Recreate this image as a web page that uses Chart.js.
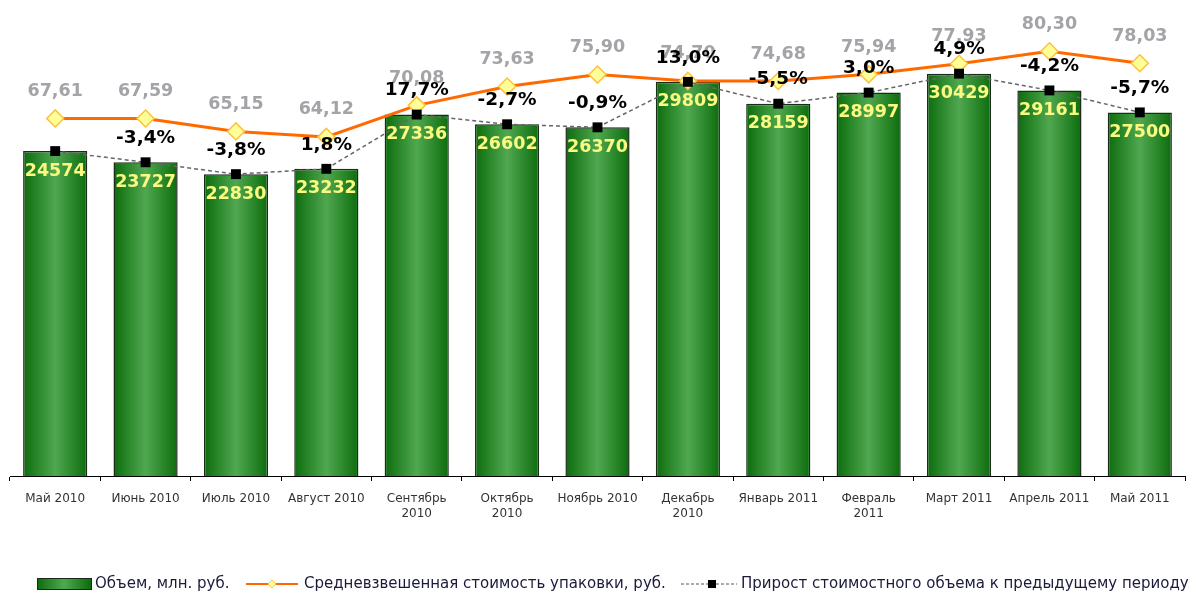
<!DOCTYPE html>
<html>
<head>
<meta charset="utf-8">
<script src="https://cdn.jsdelivr.net/npm/chart.js@4"></script>
<style>
  body { margin: 0; background: #fff; }
</style>
</head>
<body>
<canvas id="chart" width="1193" height="591"></canvas>
<script>
// DATOS
var meses = ['Май 2010', 'Июнь 2010', 'Июль 2010', 'Август 2010', ['Сентябрь', '2010'], ['Октябрь', '2010'],
    'Ноябрь 2010', ['Декабрь', '2010'], 'Январь 2011', ['Февраль', '2011'], 'Март 2011', 'Апрель 2011', 'Май 2011'];
var volumen = [24574, 23727, 22830, 23232, 27336, 26602, 26370, 29809, 28159, 28997, 30429, 29161, 27500];
var precio = [67.61, 67.59, 65.15, 64.12, 70.08, 73.63, 75.90, 74.70, 74.68, 75.94, 77.93, 80.30, 78.03];
var crecimiento = [null, -3.4, -3.8, 1.8, 17.7, -2.7, -0.9, 13.0, -5.5, 3.0, 4.9, -4.2, -5.7];
var leyenda = ['Объем, млн. руб.', 'Средневзвешенная стоимость упаковки, руб.', 'Прирост стоимостного объема к предыдущему периоду'];

var fuente = '"DejaVu Sans", Verdana, sans-serif';

function coma(v, dec) {
    return v.toFixed(dec).replace('.', ',');
}

//degradado verde de las barras
function degradado(ctx, x0, x1) {
    var g = ctx.createLinearGradient(x0, 0, x1, 0);
    g.addColorStop(0, '#0c6c0c');
    g.addColorStop(0.5, '#50a850');
    g.addColorStop(1, '#0c6c0c');
    return g;
}

function fondoBarra(context) {
    var chart = context.chart;
    var x = chart.scales.x;
    if (!x || context.dataIndex === undefined) return '#2e8b2e';
    var centro = x.getPixelForValue(context.dataIndex);
    var ancho = (x.width / meses.length) * 0.71;
    if (!isFinite(centro) || !isFinite(ancho) || ancho <= 0) return '#2e8b2e';
    return degradado(chart.ctx, centro - ancho / 2, centro + ancho / 2);
}

//ETIQUETAS DE LOS VALORES
var etiquetas = {
    id: 'etiquetas',
    afterDatasetsDraw: function (chart) {
        var ctx = chart.ctx;
        ctx.save();
        ctx.textAlign = 'center';
        ctx.textBaseline = 'middle';

        ctx.font = 'bold 17.5px ' + fuente;
        ctx.fillStyle = '#a3a3a8';
        chart.getDatasetMeta(1).data.forEach(function (p, i) {
            ctx.fillText(coma(precio[i], 2), p.x, p.y - 27);
        });

        ctx.font = 'bold 18.5px ' + fuente;
        ctx.fillStyle = '#000';
        chart.getDatasetMeta(2).data.forEach(function (p, i) {
            if (crecimiento[i] === null) return;
            ctx.fillText(coma(crecimiento[i], 1) + '%', p.x, p.y - 24);
        });

        ctx.font = 'bold 17.5px ' + fuente;
        ctx.fillStyle = '#fafa80';
        chart.getDatasetMeta(0).data.forEach(function (b, i) {
            ctx.fillText(volumen[i], b.x, b.y + 20);
        });
        ctx.restore();
    },
    afterDraw: function (chart) {
        //LEYENDA
        var ctx = chart.ctx;
        var y = 584;
        ctx.save();
        ctx.font = '15px ' + fuente;
        ctx.textBaseline = 'middle';

        ctx.fillStyle = degradado(ctx, 37, 91);
        ctx.fillRect(37, y - 6, 54, 11);
        ctx.strokeStyle = '#1a2a1a';
        ctx.lineWidth = 1;
        ctx.strokeRect(37.5, y - 5.5, 54, 11);
        ctx.fillStyle = '#1a1a3a';
        ctx.fillText(leyenda[0], 95, y);

        ctx.strokeStyle = '#ff6a00';
        ctx.lineWidth = 2;
        ctx.beginPath();
        ctx.moveTo(246, y); ctx.lineTo(298, y);
        ctx.stroke();
        ctx.fillStyle = '#ffff99';
        ctx.strokeStyle = '#ffc040';
        ctx.lineWidth = 1;
        ctx.beginPath();
        ctx.moveTo(272, y - 4); ctx.lineTo(276, y); ctx.lineTo(272, y + 4); ctx.lineTo(268, y);
        ctx.closePath();
        ctx.fill(); ctx.stroke();
        ctx.fillStyle = '#1a1a3a';
        ctx.fillText(leyenda[1], 304, y);

        ctx.strokeStyle = '#555';
        ctx.lineWidth = 1;
        ctx.setLineDash([3, 2]);
        ctx.beginPath();
        ctx.moveTo(681, y); ctx.lineTo(737, y);
        ctx.stroke();
        ctx.setLineDash([]);
        ctx.fillStyle = '#000';
        ctx.fillRect(708, y - 4, 8, 8);
        ctx.fillStyle = '#1a1a3a';
        ctx.fillText(leyenda[2], 741, y);
        ctx.restore();
    }
};

var ctx = document.getElementById('chart');
var miGrafica = new Chart(ctx, {
    type: 'bar',
    data: {
        labels: meses,
        datasets: [
            {
                label: leyenda[0],
                data: volumen,
                yAxisID: 'y',
                backgroundColor: fondoBarra,
                borderColor: '#1c2c1c',
                borderWidth: 1.5,
                categoryPercentage: 0.71,
                barPercentage: 1,
                order: 3
            },
            {
                type: 'line',
                label: leyenda[1],
                data: precio,
                yAxisID: 'y2',
                borderColor: '#ff6a00',
                borderWidth: 3,
                pointStyle: 'rectRot',
                pointRadius: 8.5,
                pointBackgroundColor: '#ffff99',
                pointBorderColor: '#ffc040',
                pointBorderWidth: 1.5,
                tension: 0,
                order: 2
            },
            {
                type: 'line',
                label: leyenda[2],
                data: volumen,
                yAxisID: 'y',
                borderColor: '#666',
                borderWidth: 1.5,
                borderDash: [4, 3],
                pointStyle: 'rect',
                pointRadius: 7,
                pointBackgroundColor: '#000',
                pointBorderColor: '#000',
                pointBorderWidth: 0,
                tension: 0,
                order: 1
            }
        ]
    },
    options: {
        responsive: false,
        animation: false,
        layout: { autoPadding: false, padding: { top: 0, left: 10, right: 8, bottom: 55 } },
        plugins: {
            legend: { display: false },
            tooltip: { enabled: false }
        },
        scales: {
            x: {
                offset: true,
                grid: {
                    offset: true,
                    drawOnChartArea: false,
                    drawTicks: true,
                    tickLength: 5,
                    color: '#000'
                },
                border: { display: true, color: '#000', width: 1 },
                ticks: {
                    font: { family: fuente, size: 12 },
                    color: '#333',
                    padding: 11,
                    maxRotation: 0,
                    autoSkip: false
                },
                afterFit: function (scale) { scale.height = 60; }
            },
            y: { display: false, min: 0, max: 36000 },
            y2: { display: false, position: 'right', min: 0, max: 90 }
        }
    },
    plugins: [etiquetas]
});
</script>
</body>
</html>
